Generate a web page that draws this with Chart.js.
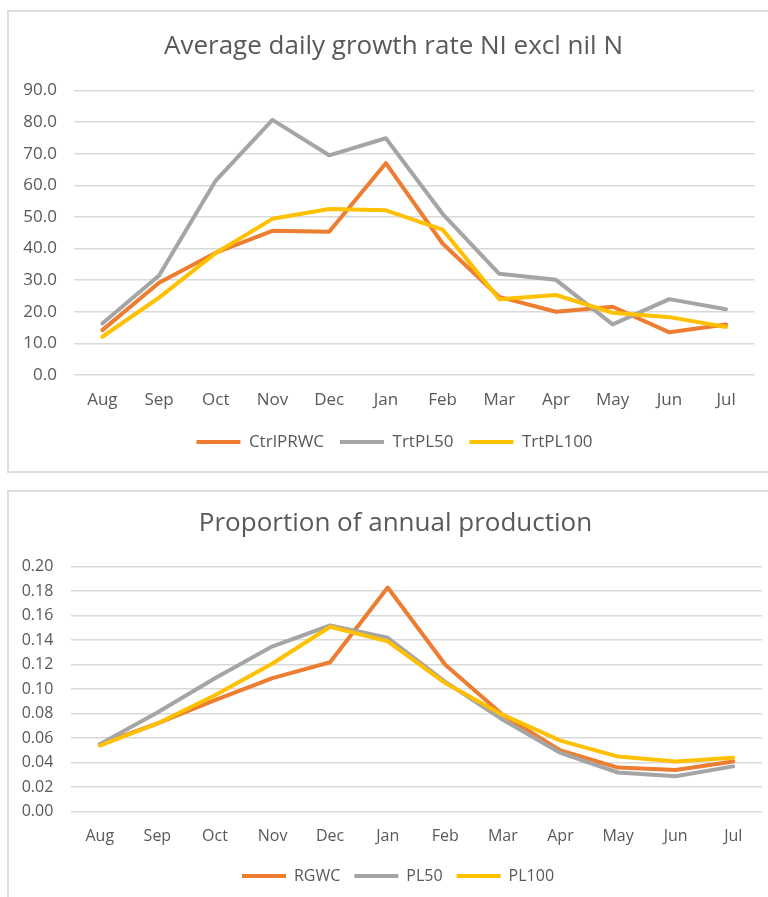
<!DOCTYPE html>
<html>
<head>
<meta charset="utf-8">
<title>Pasture growth charts</title>
<script src="https://cdn.jsdelivr.net/npm/chart.js@4.4.1/dist/chart.umd.min.js"></script>
<style>
  html, body { margin: 0; padding: 0; background: #ffffff; }
  body { width: 768px; height: 897px; position: relative; overflow: hidden; }
  .card { position: absolute; border: 2px solid #dedede; box-sizing: border-box; background: #fff; }
  .wrap { position: absolute; }
</style>
</head>
<body>
<div class="card" style="left:7px; top:10px; width:800px; height:463px;"></div>
<div class="card" style="left:7px; top:490px; width:800px; height:450px;"></div>
<div class="wrap" style="left:9px; top:12px; width:759px; height:459px;"><canvas id="growth"></canvas></div>
<div class="wrap" style="left:9px; top:493px; width:759px; height:404px;"><canvas id="proportion"></canvas></div>
<script>
// Months of the production year
const months = ['Aug', 'Sep', 'Oct', 'Nov', 'Dec', 'Jan', 'Feb', 'Mar', 'Apr', 'May', 'Jun', 'Jul'];

// Average daily growth rate (kg DM/ha/day)
const growthCtrlPRWC = [14.2, 29.2, 38.7, 45.6, 45.3, 67.0, 41.6, 24.7, 20.0, 21.6, 13.5, 16.0];
const growthTrtPL50  = [16.3, 31.5, 61.5, 80.7, 69.5, 74.9, 51.0, 32.0, 30.1, 16.0, 24.0, 20.8];
const growthTrtPL100 = [12.1, 24.5, 38.6, 49.4, 52.5, 52.1, 46.0, 24.0, 25.3, 19.7, 18.3, 15.2];

// Proportion of annual production per month
const propRGWC  = [0.055, 0.072, 0.091, 0.109, 0.122, 0.183, 0.120, 0.079, 0.050, 0.036, 0.034, 0.041];
const propPL50  = [0.055, 0.081, 0.109, 0.135, 0.152, 0.142, 0.106, 0.075, 0.048, 0.032, 0.029, 0.037];
const propPL100 = [0.054, 0.072, 0.095, 0.121, 0.151, 0.139, 0.105, 0.079, 0.058, 0.045, 0.041, 0.044];

const ORANGE = '#ED7D31';
const GREY = '#A5A5A5';
const GOLD = '#FFC000';
const TEXT = '#595959';
const GRID = '#d9d9d9';
const FONT = '"Open Sans", "Noto Sans", sans-serif';

// Re-centres the title and legend blocks on a chosen x position
const centerBlocks = {
  id: 'centerBlocks',
  afterLayout(chart, args, opts) {
    const shift = (box, cx) => {
      if (!box || cx == null) return;
      const d = cx - (box.left + box.right) / 2;
      box.left += d;
      box.right += d;
    };
    shift(chart.titleBlock, opts.titleX);
    shift(chart.legend, opts.legendX);
  }
};

function series(label, data, color, order) {
  return {
    label, data,
    borderColor: color, backgroundColor: color,
    borderWidth: 4, pointRadius: 0, tension: 0,
    borderJoinStyle: 'round', borderCapStyle: 'round',
    order
  };
}

function buildChart(id, cfg) {
  return new Chart(document.getElementById(id), {
    type: 'line',
    plugins: [centerBlocks],
    data: {
      labels: months,
      datasets: [
        series(cfg.names[0], cfg.values[0], ORANGE, 2),
        series(cfg.names[1], cfg.values[1], GREY, 1),
        series(cfg.names[2], cfg.values[2], GOLD, 0)
      ]
    },
    options: {
      responsive: true,
      maintainAspectRatio: false,
      animation: false,
      events: [],
      layout: { padding: cfg.padding },
      plugins: {
        centerBlocks: { titleX: cfg.titleX, legendX: cfg.legendX },
        tooltip: { enabled: false },
        title: {
          display: true,
          text: cfg.title,
          color: TEXT,
          font: { family: FONT, size: cfg.titleSize, weight: 'normal', lineHeight: 1.2 },
          padding: cfg.titlePad
        },
        legend: {
          position: 'bottom',
          labels: {
            color: TEXT,
            font: { family: FONT, size: cfg.legendSize },
            usePointStyle: true,
            pointStyle: 'line',
            pointStyleWidth: 44,
            padding: cfg.legendPad,
            sort: (a, b) => a.datasetIndex - b.datasetIndex
          }
        }
      },
      scales: {
        x: {
          offset: true,
          grid: { display: false, drawTicks: false },
          border: { display: false },
          ticks: {
            color: TEXT,
            padding: cfg.xPad,
            maxRotation: 0,
            autoSkip: false,
            font: { family: FONT, size: cfg.tickSize, lineHeight: 1.2 }
          },
          afterFit: (s) => { s.height = cfg.xHeight; }
        },
        y: {
          min: cfg.yMin, max: cfg.yMax,
          grid: { color: GRID, lineWidth: 1.6, drawTicks: false },
          border: { display: false },
          ticks: {
            stepSize: cfg.step,
            autoSkip: false,
            color: TEXT,
            padding: cfg.yPad,
            font: { family: FONT, size: cfg.tickSize },
            callback: (v) => Number(v).toFixed(cfg.decimals)
          },
          afterFit: (s) => { s.width = cfg.yWidth; }
        }
      }
    }
  });
}

buildChart('growth', {
  title: 'Average daily growth rate NI excl nil N',
  names: ['CtrlPRWC', 'TrtPL50', 'TrtPL100'],
  values: [growthCtrlPRWC, growthTrtPL50, growthTrtPL100],
  titleSize: 26, tickSize: 17, legendSize: 17,
  titlePad: { top: 19.4, bottom: 27.9 },
  padding: { left: 0, right: 13.6, top: 0, bottom: 10.5 },
  titleX: 384.5, legendX: 385.5,
  legendPad: 16,
  xPad: 14.8, xHeight: 42.5,
  yPad: 17, yWidth: 65,
  yMin: 0, yMax: 90, step: 10, decimals: 1
});

buildChart('proportion', {
  title: 'Proportion of annual production',
  names: ['RGWC', 'PL50', 'PL100'],
  values: [propRGWC, propPL50, propPL100],
  titleSize: 26, tickSize: 16, legendSize: 16,
  titlePad: { top: 15.4, bottom: 27.1 },
  padding: { left: 0, right: 6, top: 0, bottom: 3 },
  titleX: 386.5, legendX: 389,
  legendPad: 14,
  xPad: 14.7, xHeight: 42.3,
  yPad: 17.7, yWidth: 62,
  yMin: 0, yMax: 0.2, step: 0.02, decimals: 2
});
</script>
</body>
</html>
